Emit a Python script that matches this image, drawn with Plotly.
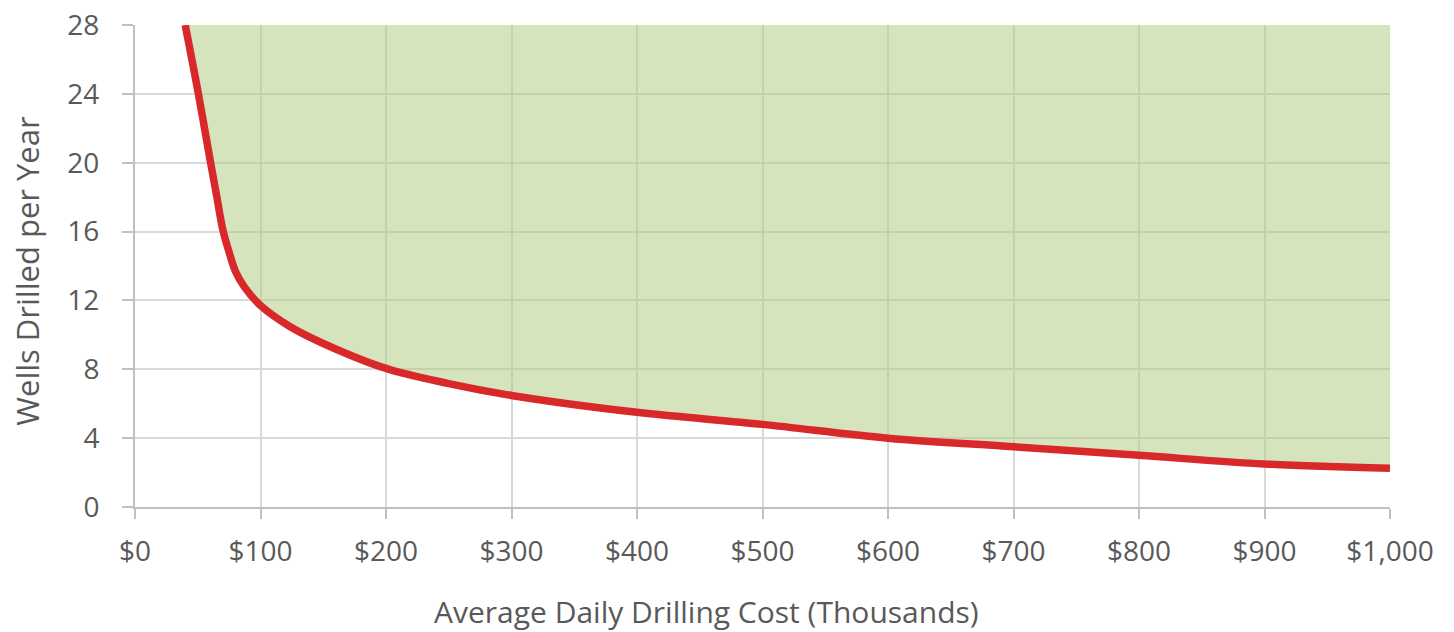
import plotly.graph_objects as go

# Data
cost = [40, 50, 60, 65, 70, 75, 80, 87, 100, 123, 150, 200, 250, 300, 400, 500, 600, 700, 800, 900, 1000]
wells = [28, 24.2, 20.1, 18.1, 16.1, 14.8, 13.7, 12.8, 11.7, 10.5, 9.5, 8.05, 7.17, 6.48, 5.5, 4.8, 4.0, 3.5, 3.0, 2.5, 2.25]
ceiling_x = [40, 1000]
ceiling_y = [28, 28]

y_ticks = [0, 4, 8, 12, 16, 20, 24, 28]
x_ticks = [0, 100, 200, 300, 400, 500, 600, 700, 800, 900, 1000]
x_tick_labels = ["$0", "$100", "$200", "$300", "$400", "$500", "$600", "$700", "$800", "$900", "$1,000"]

FONT = "Open Sans"
TXT = "#595959"
FS_TICK = 28
FS_TITLE = 30

fig = go.Figure()
fig.add_trace(go.Scatter(x=ceiling_x, y=ceiling_y, mode="lines",
                         line=dict(width=0, color="rgba(0,0,0,0)"),
                         hoverinfo="skip", showlegend=False))
fig.add_trace(go.Scatter(x=cost, y=wells, mode="lines",
                         line=dict(color="#d9282a", width=7.5, shape="spline", smoothing=1.0),
                         fill="tonexty", fillcolor="rgba(176,204,128,0.52)",
                         showlegend=False))

fig.update_layout(
    width=1446, height=624,
    margin=dict(l=127, r=64, t=17, b=125),
    paper_bgcolor="white", plot_bgcolor="white",
    font=dict(family=FONT, size=FS_TICK, color=TXT),
    xaxis=dict(range=[0, 1000], tickmode="array", tickvals=x_ticks, ticktext=x_tick_labels,
               showgrid=True, gridcolor="#d9d9d9", gridwidth=2,
               showline=True, linecolor="#bfbfbf", linewidth=2,
               ticks="outside", ticklen=10, tickcolor="#bfbfbf", tickwidth=2,
               ticklabelstandoff=8, ticklabeloverflow="allow",
               zeroline=False, automargin=False,
               tickfont=dict(family=FONT, size=FS_TICK, color=TXT)),
    yaxis=dict(range=[0, 28], tickmode="array", tickvals=y_ticks,
               showgrid=True, gridcolor="#d9d9d9", gridwidth=2,
               showline=True, linecolor="#bfbfbf", linewidth=2,
               ticks="outside", ticklen=11, tickcolor="#bfbfbf", tickwidth=2,
               ticklabelstandoff=17, ticklabeloverflow="allow",
               zeroline=False, automargin=False,
               tickfont=dict(family=FONT, size=FS_TICK, color=TXT)),
    annotations=[
        dict(text="Average Daily Drilling Cost (Thousands)", xref="paper", yref="paper",
             x=0.455, y=-0.217, xanchor="center", yanchor="middle", showarrow=False,
             font=dict(family=FONT, size=FS_TITLE, color=TXT)),
        dict(text="Wells Drilled per Year", xref="paper", yref="paper",
             x=-0.0862, y=0.49, xanchor="center", yanchor="middle", showarrow=False,
             textangle=-90, font=dict(family=FONT, size=31, color=TXT)),
    ],
)

fig.write_html("out.html")
